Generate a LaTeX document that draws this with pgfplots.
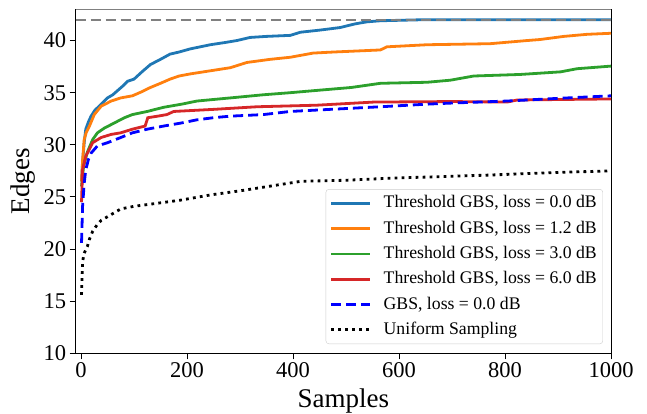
\documentclass[border=0pt]{standalone}
\usepackage{fontspec}
\setmainfont{Liberation Serif}
\usepackage{pgfplots}
\pgfplotsset{compat=1.18}

\definecolor{tabblue}{HTML}{1F77B4}
\definecolor{taborange}{HTML}{FF7F0E}
\definecolor{tabgreen}{HTML}{2CA02C}
\definecolor{tabred}{HTML}{D62728}

\begin{document}
\begin{tikzpicture}
\useasboundingbox (0,0) rectangle (647pt,414pt);
\begin{axis}[
    at={(75.7pt,60.7pt)}, anchor=south west,
    scale only axis,
    width=535.3pt, height=344pt,
    xmin=-10, xmax=1000,
    ymin=10, ymax=43,
    xtick={0,200,400,600,800,1000},
    ytick={10,15,20,25,30,35,40},
    xtick pos=bottom, ytick pos=left,
    tick align=outside,
    major tick length=6pt,
    tick style={black, line width=0.9pt},
    axis line style={line width=0.9pt},
    /pgf/number format/assume math mode=true,
    /pgf/number format/1000 sep={},
    tick label style={font=\fontsize{22.5}{24}\selectfont},
    xlabel={Samples},
    ylabel={Edges},
    every axis x label/.style={at={(axis description cs:0.5,-0.159)}, anchor=base,
        font=\fontsize{27}{30}\selectfont},
    every axis y label/.style={at={(axis description cs:-0.0985,0.5)}, rotate=90, anchor=center,
        font=\fontsize{27}{30}\selectfont},
    legend cell align=left,
    legend image code/.code={\draw[#1] (0pt,0pt) -- (39pt,0pt);},
    legend style={
        at={(0.985,0.027)}, anchor=south east,
        draw=black!20, rounded corners=3pt,
        fill=white, fill opacity=0.8, text opacity=1,
        font=\fontsize{17.7}{20}\selectfont,
        inner xsep=4pt, inner ysep=4pt,
        row sep=5.3pt,
        nodes={inner sep=2pt, text height=12.5pt, text depth=3.5pt},
        /tikz/every odd column/.append style={column sep=10pt},
    },
]

\addplot[tabblue, line width=2.8pt] coordinates {
(1,26.5)(3,28.3)(6,30.2)(9,31.5)(14,32.2)(19,32.75)(26,33.3)(34,33.7)(42,34.1)
(50,34.5)(60,34.8)(69,35.2)(78,35.6)(88,36.1)(100,36.3)(115,37.0)(131,37.7)
(150,38.2)(168,38.7)(185,38.9)(206,39.2)(225,39.4)(244,39.6)(270,39.8)(294,40.0)
(319,40.3)(350,40.4)(395,40.5)(414,40.8)(450,41.0)(489,41.25)(517,41.6)(540,41.8)
(565,41.9)(646,42.0)(1000,42.0)
};
\addlegendentry{Threshold GBS, loss = 0.0 dB}

\addplot[taborange, line width=2.8pt] coordinates {
(1,26.5)(3,28.5)(6,30.5)(10,31.2)(16,31.8)(25,32.9)(38,33.7)(57,34.2)(75,34.5)
(97,34.7)(115,35.1)(131,35.5)(150,35.9)(168,36.3)(185,36.6)(206,36.8)(244,37.1)
(282,37.4)(313,37.9)(357,38.2)(395,38.4)(438,38.8)(476,38.9)(565,39.1)(577,39.4)
(653,39.6)(772,39.7)(841,40.0)(866,40.1)(911,40.4)(955,40.6)(1000,40.7)
};
\addlegendentry{Threshold GBS, loss = 1.2 dB}

\addplot[tabgreen, line width=2.8pt] coordinates {
(1,26)(5,28.0)(12,29.3)(22,30.5)(31,31.15)(44,31.6)(63,32.1)(82,32.6)(97,32.9)
(125,33.2)(156,33.6)(190,33.9)(219,34.2)(282,34.5)(344,34.8)(395,35.0)(452,35.25)
(510,35.5)(565,35.9)(653,36.0)(697,36.2)(741,36.6)(829,36.75)(905,37.0)(936,37.3)
(1000,37.55)
};
\addlegendentry{Threshold GBS, loss = 3.0 dB}

\addplot[tabred, line width=2.8pt] coordinates {
(1,24.5)(3,27.6)(9,28.9)(22,30.2)(38,30.7)(57,31.0)(75,31.15)(97,31.5)(121,31.8)
(126,32.6)(145,32.75)(162,32.9)(175,33.2)(250,33.4)(332,33.65)(445,33.8)(552,34.1)
(700,34.15)(804,34.1)(823,34.3)(1000,34.4)
};
\addlegendentry{Threshold GBS, loss = 6.0 dB}

\addplot[blue, line width=2.8pt, dash pattern=on 10pt off 5pt] coordinates {
(1,20.6)(3,24.1)(6,26.3)(9,27.6)(14,28.6)(19,29.2)(31,29.9)(50,30.2)(75,30.7)
(97,31.15)(125,31.5)(156,31.8)(190,32.1)(219,32.4)(250,32.6)(282,32.75)(344,32.9)
(395,33.2)(470,33.4)(565,33.65)(653,33.9)(697,34.0)(804,34.2)(898,34.45)(1000,34.7)
};
\addlegendentry{GBS, loss = 0.0 dB}

\addplot[black, line width=2.8pt, line cap=butt, dash pattern=on 2.8pt off 4.2pt] coordinates {
(1,15.6)(2,17.4)(3,18.8)(6,19.6)(12,20.25)(16,20.95)(22,21.7)(30,22.3)(38,22.75)
(50,23.1)(75,23.85)(100,24.1)(145,24.4)(189,24.7)(245,25.2)(302,25.6)(365,26.1)
(415,26.5)(500,26.6)(584,26.8)(680,26.95)(772,27.1)(898,27.35)(1000,27.5)
};
\addlegendentry{Uniform Sampling}

\addplot[gray, line width=2.2pt, dash pattern=on 10pt off 5pt, forget plot] coordinates {
(-10,42)(1000,42)
};

\draw[gray, line width=1.4pt] (rel axis cs:0,1) -- (rel axis cs:1,1);
\end{axis}
\end{tikzpicture}
\end{document}
